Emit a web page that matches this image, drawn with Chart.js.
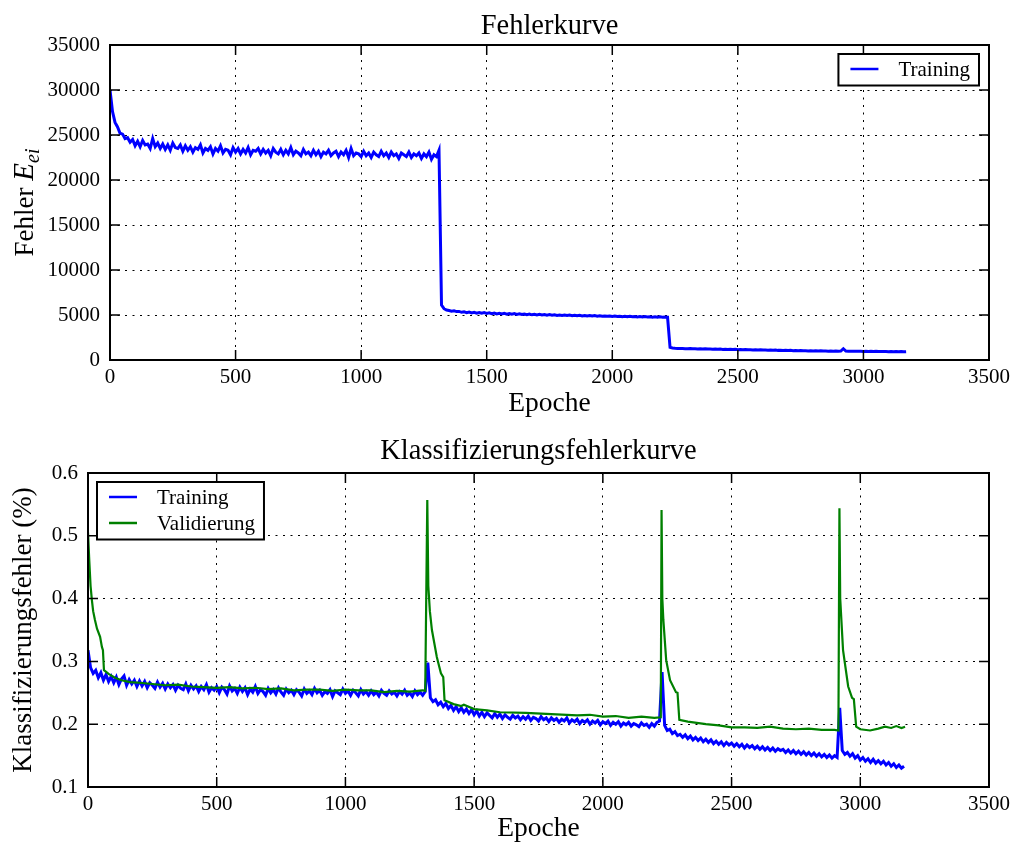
<!DOCTYPE html>
<html>
<head>
<meta charset="utf-8">
<script src="https://cdn.jsdelivr.net/npm/chart.js@4.4.0/dist/chart.umd.min.js"></script>
<style>
  html, body { margin: 0; padding: 0; background: #fff; }
  .box { position: absolute; left: 0; width: 1012px; }
  #top { top: 0; height: 420px; }
  #bottom { top: 420px; height: 423px; }
</style>
</head>
<body>
<div class="box" id="top"><canvas id="fehler"></canvas></div>
<div class="box" id="bottom"><canvas id="klass"></canvas></div>
<script>
// one value every EPOCH_STEP epochs, starting at epoch 0
const EPOCH_STEP = 10;

const xTicks = [0, 500, 1000, 1500, 2000, 2500, 3000, 3500];
const fehlerTicks = [0, 5000, 10000, 15000, 20000, 25000, 30000, 35000];
const klassTicks = [0.1, 0.2, 0.3, 0.4, 0.5, 0.6];

// Fehlerkurve, Training
const fehlerTraining = [
  30000, 27600, 26400, 25900, 25200, 25100, 24600, 24700, 24200, 24500,
  23800, 24300, 23700, 24400, 23900, 24000, 23500, 24600, 23700, 24100,
  23500, 24000, 23400, 23900, 23300, 24100, 23600, 23500, 23900, 23200,
  23800, 23300, 23700, 23100, 23600, 23400, 23900, 23000, 23500, 23300,
  23700, 22900, 23500, 23200, 23800, 23000, 23400, 23300, 22800, 23600,
  23100, 23500, 22900, 23400, 23000, 23600, 22800, 23300, 23200, 23500,
  22900, 23400, 23000, 23300, 22700, 23500, 23100, 22900, 23400, 22800,
  23300, 22900, 23600, 22800, 23200, 23000, 22700, 23400, 22900, 23100,
  22700, 23300, 22800, 23200, 22600, 23100, 22900, 23300, 22700, 23000,
  23200, 22600, 23100, 22800, 23300, 22500, 23500, 22700, 23000, 22900,
  22600, 23200, 22700, 23000, 22500, 23100, 22800, 22600, 23200, 22700,
  23000, 22500, 23100, 22700, 22900, 22400, 23000, 22800, 22600, 23100,
  22500, 22900, 22700, 23000, 22400, 22900, 22600, 23100, 22300, 22800,
  22600, 23300, 6100, 5700, 5550, 5500, 5420, 5460, 5380, 5400,
  5300, 5350, 5260, 5330, 5230, 5300, 5210, 5280, 5190, 5260,
  5180, 5240, 5150, 5220, 5130, 5200, 5110, 5180, 5100, 5160,
  5090, 5150, 5070, 5130, 5050, 5110, 5040, 5100, 5020, 5080,
  5010, 5070, 5000, 5050, 4980, 5040, 4970, 5030, 4960, 5010,
  4950, 5000, 4940, 4990, 4920, 4980, 4910, 4970, 4900, 4950,
  4890, 4940, 4880, 4930, 4870, 4920, 4860, 4900, 4850, 4890,
  4840, 4880, 4830, 4870, 4820, 4860, 4810, 4850, 4800, 4840,
  4790, 4830, 4780, 4820, 4770, 4810, 4760, 4800, 4750, 4790,
  4740, 4780, 4760, 1400, 1330, 1300, 1290, 1280, 1270, 1260,
  1250, 1270, 1240, 1260, 1230, 1250, 1220, 1240, 1210, 1230,
  1200, 1220, 1190, 1210, 1180, 1200, 1170, 1190, 1160, 1180,
  1150, 1170, 1140, 1160, 1130, 1150, 1120, 1140, 1110, 1130,
  1100, 1120, 1090, 1110, 1080, 1100, 1070, 1090, 1060, 1080,
  1050, 1070, 1040, 1060, 1030, 1050, 1020, 1040, 1010, 1030,
  1000, 1020, 995, 1015, 990, 1010, 985, 1005, 980, 1000,
  975, 995, 1250, 990, 970, 985, 965, 980, 960, 975,
  955, 970, 950, 965, 945, 960, 940, 955, 935, 950,
  930, 945, 925, 940, 920, 935, 915, 930
];

// Klassifizierungsfehlerkurve, Training
const klassTraining = [
  0.318, 0.290, 0.281, 0.286, 0.274, 0.282, 0.270, 0.279, 0.268, 0.276,
  0.266, 0.275, 0.263, 0.272, 0.277, 0.262, 0.271, 0.264, 0.270, 0.260,
  0.269, 0.261, 0.268, 0.258, 0.266, 0.262, 0.257, 0.267, 0.259, 0.265,
  0.256, 0.264, 0.258, 0.263, 0.254, 0.262, 0.257, 0.255, 0.264, 0.253,
  0.262, 0.256, 0.261, 0.252, 0.260, 0.255, 0.263, 0.251, 0.258, 0.254,
  0.260, 0.250, 0.259, 0.255, 0.248, 0.261, 0.253, 0.257, 0.249, 0.259,
  0.252, 0.258, 0.247, 0.256, 0.251, 0.260, 0.249, 0.255, 0.252, 0.246,
  0.257, 0.250, 0.255, 0.248, 0.258, 0.251, 0.246, 0.256, 0.250, 0.254,
  0.247, 0.255, 0.251, 0.245, 0.256, 0.249, 0.253, 0.247, 0.257, 0.250,
  0.254, 0.246, 0.252, 0.249, 0.255, 0.244, 0.253, 0.250, 0.247, 0.256,
  0.249, 0.253, 0.246, 0.254, 0.250, 0.245, 0.255, 0.248, 0.252, 0.246,
  0.253, 0.247, 0.251, 0.245, 0.254, 0.249, 0.246, 0.253, 0.248, 0.251,
  0.245, 0.252, 0.248, 0.254, 0.246, 0.250, 0.244, 0.253, 0.247, 0.251,
  0.246, 0.252, 0.298, 0.242, 0.236, 0.239, 0.231, 0.235, 0.228, 0.233,
  0.225, 0.230, 0.222, 0.228, 0.220, 0.226, 0.219, 0.224, 0.217, 0.223,
  0.215, 0.221, 0.213, 0.219, 0.212, 0.218, 0.214, 0.210, 0.217, 0.211,
  0.216, 0.209, 0.215, 0.211, 0.208, 0.214, 0.210, 0.213, 0.207, 0.212,
  0.208, 0.213, 0.206, 0.211, 0.209, 0.205, 0.212, 0.207, 0.210, 0.204,
  0.210, 0.206, 0.209, 0.203, 0.208, 0.205, 0.210, 0.202, 0.207, 0.204,
  0.208, 0.201, 0.206, 0.203, 0.207, 0.200, 0.205, 0.202, 0.206, 0.199,
  0.204, 0.201, 0.205, 0.198, 0.203, 0.200, 0.204, 0.197, 0.202, 0.199,
  0.203, 0.197, 0.201, 0.199, 0.196, 0.202, 0.198, 0.200, 0.195, 0.201,
  0.197, 0.203, 0.205, 0.283, 0.198, 0.190, 0.192, 0.185, 0.188, 0.182,
  0.184, 0.179, 0.183, 0.177, 0.181, 0.175, 0.179, 0.174, 0.178, 0.172,
  0.176, 0.171, 0.175, 0.169, 0.173, 0.168, 0.172, 0.166, 0.171, 0.167,
  0.170, 0.165, 0.169, 0.164, 0.168, 0.162, 0.167, 0.163, 0.166, 0.161,
  0.165, 0.160, 0.164, 0.159, 0.163, 0.158, 0.162, 0.157, 0.161, 0.158,
  0.160, 0.155, 0.159, 0.154, 0.158, 0.153, 0.157, 0.152, 0.156, 0.151,
  0.155, 0.150, 0.154, 0.149, 0.153, 0.148, 0.152, 0.147, 0.151, 0.146,
  0.150, 0.147, 0.226, 0.158, 0.152, 0.155, 0.149, 0.153, 0.146, 0.150,
  0.143, 0.147, 0.141, 0.145, 0.139, 0.144, 0.138, 0.142, 0.137, 0.141,
  0.135, 0.139, 0.133, 0.137, 0.131, 0.135, 0.130, 0.133
];

// Klassifizierungsfehlerkurve, Validierung (epoch, value)
const validEpochs = [
  0, 5, 10, 15, 20, 27, 35, 47, 54, 58, 62, 80, 105, 130, 163, 200, 250, 300, 350, 400,
  450, 500, 550, 600, 650, 700, 750, 800, 850, 900, 950, 1000, 1050, 1100, 1150, 1200, 1250, 1300, 1310,
  1318, 1322, 1328, 1336, 1355, 1371, 1380, 1385, 1420, 1450, 1460, 1500, 1550, 1600, 1700, 1800,
  1900, 1950, 2000, 2050, 2100, 2150, 2200, 2225,
  2228, 2231, 2235, 2246, 2261, 2284, 2290, 2297, 2330, 2400, 2450, 2500, 2550, 2600, 2650, 2700,
  2750, 2800, 2850, 2900, 2915,
  2919, 2922, 2933, 2953, 2968, 2975, 2984, 3000, 3038, 3070, 3096, 3120, 3140, 3160, 3174
];
const validValues = [
  0.505, 0.46, 0.42, 0.398, 0.38, 0.366, 0.352, 0.339, 0.323, 0.318, 0.286, 0.280, 0.274, 0.270, 0.267, 0.266, 0.264, 0.262, 0.263, 0.260,
  0.259, 0.258, 0.259, 0.257, 0.258, 0.256, 0.257, 0.254, 0.255, 0.255, 0.253, 0.255, 0.254, 0.254, 0.251, 0.253, 0.252, 0.254, 0.253,
  0.557, 0.42, 0.38, 0.35, 0.307, 0.281, 0.275, 0.238, 0.232, 0.229, 0.231, 0.224, 0.222, 0.219, 0.218, 0.216,
  0.214, 0.215, 0.212, 0.213, 0.210, 0.212, 0.210, 0.211,
  0.541, 0.40, 0.366, 0.302, 0.270, 0.251, 0.250, 0.207, 0.204, 0.200, 0.198, 0.195, 0.195, 0.194, 0.196, 0.193,
  0.192, 0.193, 0.191, 0.191, 0.190,
  0.544, 0.40, 0.318, 0.260, 0.242, 0.240, 0.196, 0.192, 0.190, 0.193, 0.196, 0.194, 0.197, 0.194, 0.196
];

const SERIF = '"Liberation Serif", "DejaVu Serif", serif';
Chart.defaults.font.family = SERIF;
Chart.defaults.color = '#000';

const stepped = arr => arr.map((v, i) => ({ x: i * EPOCH_STEP, y: v }));
const paired = (xs, ys) => xs.map((x, i) => ({ x, y: ys[i] }));

// title over the plot area, inner tick marks, black frame, boxed legend
const framePlugin = {
  id: 'frame',
  afterDatasetsDraw(chart) {
    const { ctx, chartArea: a, scales: { x, y } } = chart;
    ctx.save();
    ctx.strokeStyle = '#000';
    ctx.lineWidth = 1.5;
    ctx.beginPath();
    x.ticks.forEach(t => {
      const px = x.getPixelForValue(t.value);
      ctx.moveTo(px, a.bottom); ctx.lineTo(px, a.bottom - 10);
      ctx.moveTo(px, a.top); ctx.lineTo(px, a.top + 10);
    });
    y.ticks.forEach(t => {
      const py = y.getPixelForValue(t.value);
      ctx.moveTo(a.left, py); ctx.lineTo(a.left + 10, py);
      ctx.moveTo(a.right, py); ctx.lineTo(a.right - 10, py);
    });
    ctx.stroke();
    ctx.lineWidth = 2;
    ctx.strokeRect(a.left, a.top, a.right - a.left, a.bottom - a.top);
    ctx.restore();
  },
  afterDraw(chart, args, opts) {
    const { ctx, chartArea: a } = chart;
    const sets = chart.data.datasets;
    ctx.save();
    ctx.fillStyle = '#000';
    ctx.font = '28.5px ' + SERIF;
    ctx.textAlign = 'center';
    ctx.textBaseline = 'middle';
    ctx.fillText(opts.title, (a.left + a.right) / 2, opts.titleY);

    ctx.textAlign = 'left';
    ctx.font = '21px ' + SERIF;
    const textW = Math.max(...sets.map(d => ctx.measureText(d.label).width));
    const w = 12 + 28 + 20 + textW + 9;
    const h = 14.5 + (sets.length - 1) * 26 + 17;
    const left = opts.side === 'right' ? a.right - 10 - w : a.left + 9;
    const top = a.top + 9;
    ctx.fillStyle = '#fff';
    ctx.fillRect(left, top, w, h);
    ctx.strokeStyle = '#000';
    ctx.lineWidth = 2;
    ctx.strokeRect(left, top, w, h);
    sets.forEach((d, i) => {
      const cy = top + 15 + i * 26;
      ctx.strokeStyle = d.borderColor;
      ctx.lineWidth = 2.5;
      ctx.beginPath();
      ctx.moveTo(left + 12, cy); ctx.lineTo(left + 40, cy);
      ctx.stroke();
      ctx.fillStyle = '#000';
      ctx.fillText(d.label, left + 60, cy + 1);
    });
    ctx.restore();
  }
};

// y-axis title with italic symbol and subscript
const richTitlePlugin = {
  id: 'richTitle',
  afterDraw(chart, args, opts) {
    if (!opts.parts) return;
    const { ctx, chartArea: a } = chart;
    ctx.save();
    ctx.translate(opts.x, (a.top + a.bottom) / 2);
    ctx.rotate(-Math.PI / 2);
    ctx.fillStyle = '#000';
    ctx.textBaseline = 'alphabetic';
    let total = 0;
    opts.parts.forEach(p => { ctx.font = p.font; total += ctx.measureText(p.text).width; });
    let cx = -total / 2;
    opts.parts.forEach(p => {
      ctx.font = p.font;
      ctx.fillText(p.text, cx, p.dy || 0);
      cx += ctx.measureText(p.text).width;
    });
    ctx.restore();
  }
};

function axes(yTicks, yMin, yMax, yWidth, xHeight, yFmt, xTitlePad) {
  return {
    x: {
      type: 'linear', min: 0, max: 3500,
      afterBuildTicks: s => { s.ticks = xTicks.map(v => ({ value: v })); },
      afterFit: s => { s.height = xHeight; s.paddingRight = 23; },
      ticks: { font: { size: 21, lineHeight: 1 }, padding: 7, maxRotation: 0, callback: v => String(v) },
      grid: { color: '#000', lineWidth: 1, drawTicks: false },
      border: { display: false, dash: [2, 5.5] },
      title: { display: true, text: 'Epoche', font: { size: 27.5, lineHeight: 1 }, padding: { top: 0, bottom: xTitlePad } }
    },
    y: {
      type: 'linear', min: yMin, max: yMax,
      afterBuildTicks: s => { s.ticks = yTicks.map(v => ({ value: v })); },
      afterFit: s => { s.width = yWidth; },
      ticks: { font: { size: 21, lineHeight: 1 }, padding: 10, callback: yFmt },
      grid: { color: '#000', lineWidth: 1, drawTicks: false },
      border: { display: false, dash: [2, 5.5] }
    }
  };
}

const fehlerScales = axes(fehlerTicks, 0, 35000, 110, 60, v => String(v), 2);
new Chart(document.getElementById('fehler'), {
  type: 'line',
  data: {
    datasets: [{
      label: 'Training',
      data: stepped(fehlerTraining),
      borderColor: '#0000ff',
      borderWidth: 3,
      pointRadius: 0,
      tension: 0
    }]
  },
  options: {
    responsive: true,
    maintainAspectRatio: false,
    animation: false,
    layout: { padding: { left: 0, right: 0, top: 45, bottom: 0 } },
    scales: fehlerScales,
    plugins: {
      legend: { display: false },
      tooltip: { enabled: false },
      frame: { side: 'right', title: 'Fehlerkurve', titleY: 27 },
      richTitle: {
        x: 33,
        parts: [
          { text: 'Fehler ', font: '27px ' + SERIF },
          { text: 'E', font: 'italic 29px ' + SERIF },
          { text: 'ei', font: 'italic 20px ' + SERIF, dy: 6 }
        ]
      }
    }
  },
  plugins: [framePlugin, richTitlePlugin]
});

const klassScales = axes(klassTicks, 0.1, 0.6, 88, 56, v => v.toFixed(1), 0);
klassScales.y.title = { display: true, text: 'Klassifizierungsfehler (%)', font: { size: 27, lineHeight: 1 }, padding: { top: 10, bottom: 0 } };
new Chart(document.getElementById('klass'), {
  type: 'line',
  data: {
    datasets: [{
      label: 'Training',
      data: stepped(klassTraining),
      borderColor: '#0000ff',
      borderWidth: 3,
      pointRadius: 0,
      tension: 0,
      order: 1
    }, {
      label: 'Validierung',
      data: paired(validEpochs, validValues),
      borderColor: '#008000',
      borderWidth: 2.2,
      pointRadius: 0,
      tension: 0,
      order: 0
    }]
  },
  options: {
    responsive: true,
    maintainAspectRatio: false,
    animation: false,
    layout: { padding: { left: 0, right: 0, top: 53, bottom: 0 } },
    scales: klassScales,
    plugins: {
      legend: { display: false },
      tooltip: { enabled: false },
      frame: { side: 'left', title: 'Klassifizierungsfehlerkurve', titleY: 32 }
    }
  },
  plugins: [framePlugin]
});
</script>
</body>
</html>
